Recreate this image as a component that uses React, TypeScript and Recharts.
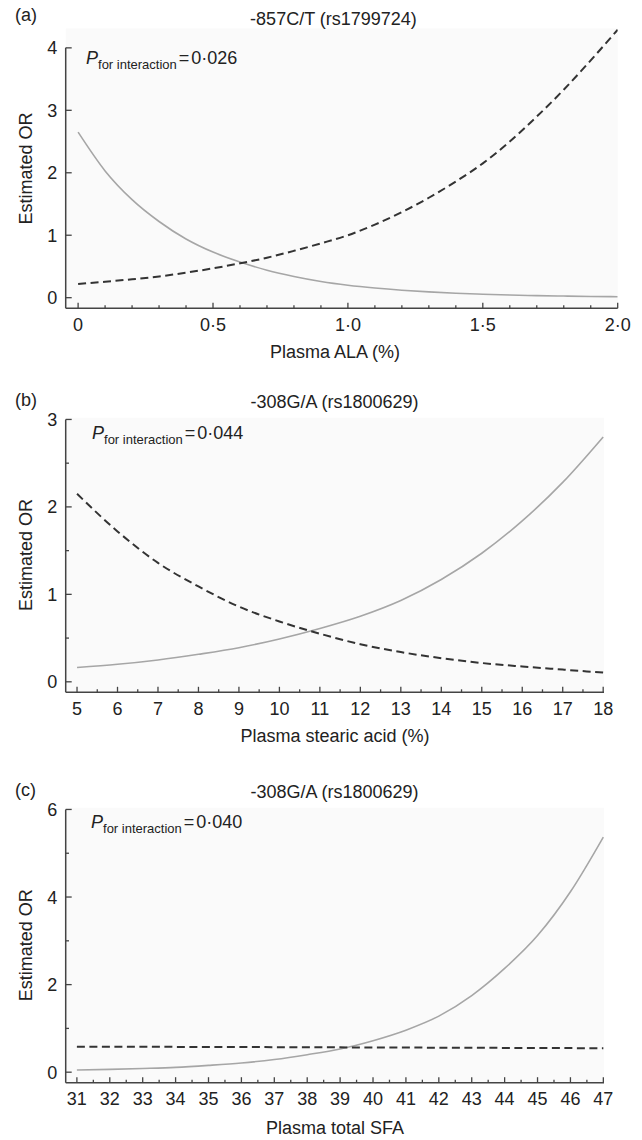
import React from 'react';
import { LineChart, Line, XAxis, YAxis, CartesianGrid, ReferenceLine } from 'recharts';

// (a) -857C/T, plasma ALA
const alaX = [0, 0.1, 0.2, 0.3, 0.4, 0.5, 0.6, 0.7, 0.8, 0.9, 1, 1.1, 1.2, 1.3, 1.4, 1.5, 1.6, 1.7, 1.8, 1.9, 2];
const alaSolid = [2.65, 2.03, 1.57, 1.22, 0.94, 0.73, 0.57, 0.44, 0.34, 0.26, 0.2, 0.155, 0.12, 0.093, 0.072, 0.056, 0.043, 0.033, 0.026, 0.02, 0.015];
const alaDashed = [0.22, 0.255, 0.295, 0.34, 0.4, 0.47, 0.55, 0.64, 0.75, 0.87, 1.0, 1.17, 1.37, 1.6, 1.86, 2.15, 2.5, 2.9, 3.33, 3.8, 4.29];
const alaMajor = [0, 0.5, 1, 1.5, 2];
const alaMajorLabels = ['0', '0·5', '1·0', '1·5', '2·0'];
const alaYTicks = [0, 1, 2, 3, 4];

// (b) -308G/A, plasma stearic acid
const stearicX = [5, 6, 7, 8, 9, 10, 11, 12, 13, 14, 15, 16, 17, 18];
const stearicSolid = [0.163, 0.2, 0.25, 0.315, 0.39, 0.49, 0.61, 0.75, 0.93, 1.17, 1.47, 1.84, 2.28, 2.8];
const stearicDashed = [2.15, 1.72, 1.36, 1.09, 0.86, 0.69, 0.55, 0.43, 0.34, 0.27, 0.215, 0.175, 0.14, 0.105];
const stearicMinor = [5.5, 6.5, 7.5, 8.5, 9.5, 10.5, 11.5, 12.5, 13.5, 14.5, 15.5, 16.5, 17.5];
const stearicYTicks = [0, 1, 2, 3];
const stearicYMinor = [0.5, 1.5, 2.5];

// (c) -308G/A, plasma total SFA
const sfaX = [31, 32, 33, 34, 35, 36, 37, 38, 39, 40, 41, 42, 43, 44, 45, 46, 47];
const sfaSolid = [0.05, 0.065, 0.085, 0.11, 0.155, 0.21, 0.29, 0.4, 0.53, 0.72, 0.96, 1.28, 1.75, 2.37, 3.12, 4.12, 5.37];
const sfaDashed = [0.58, 0.58, 0.58, 0.578, 0.577, 0.575, 0.572, 0.57, 0.567, 0.565, 0.562, 0.56, 0.557, 0.555, 0.552, 0.55, 0.545];
const sfaMinor = [31.5, 32.5, 33.5, 34.5, 35.5, 36.5, 37.5, 38.5, 39.5, 40.5, 41.5, 42.5, 43.5, 44.5, 45.5, 46.5];
const sfaYTicks = [0, 2, 4, 6];
const sfaYMinor = [1, 3, 5];

const FONT = '"Liberation Sans", Arial, Helvetica, sans-serif';
const INK = '#222';
const AXIS = '#444';

const makeRows = (xs: number[], solid: number[], dashed: number[]) =>
  xs.map((x, i) => ({ x, solid: solid[i], dashed: dashed[i] }));

const XTick = (props: any) => {
  const { x, y, payload, majors, labels } = props;
  const i = majors.indexOf(payload.value);
  const major = i >= 0;
  return (
    <g>
      <line x1={x} y1={y} x2={x} y2={y - (major ? 5.5 : 3)} stroke={AXIS} strokeWidth={1.3} />
      {major && (
        <text x={x} y={y + 22.5} textAnchor="middle" fontFamily={FONT} fontSize={18} fill={INK}>
          {labels[i]}
        </text>
      )}
    </g>
  );
};

const YTick = (props: any) => {
  const { x, y, payload, majors } = props;
  const major = majors.indexOf(payload.value) >= 0;
  return (
    <g>
      <line x1={x} y1={y} x2={x + (major ? 6 : 3.3)} y2={y} stroke={AXIS} strokeWidth={1.3} />
      {major && (
        <text x={x - 8.5} y={y} dy="0.36em" textAnchor="end" fontFamily={FONT} fontSize={18} fill={INK}>
          {String(payload.value)}
        </text>
      )}
    </g>
  );
};

type PanelProps = {
  top: number;
  height: number;
  margin: { top: number; right: number; bottom: number; left: number };
  data: { x: number; solid: number; dashed: number }[];
  xDomain: [number, number];
  yDomain: [number, number];
  xTicks: number[];
  xMajor: number[];
  xLabels: string[];
  yTicks: number[];
  yMajor: number[];
};

const Panel = ({ top, height, margin, data, xDomain, yDomain, xTicks, xMajor, xLabels, yTicks, yMajor }: PanelProps) => (
  <div style={{ position: 'absolute', left: 0, top }}>
    <LineChart width={642} height={height} data={data} margin={margin}>
      <CartesianGrid horizontal={false} vertical={false} fill="#fafafa" stroke="none" />
      <XAxis
        dataKey="x"
        type="number"
        domain={xDomain}
        allowDataOverflow
        ticks={xTicks}
        interval={0}
        height={30}
        tickSize={0}
        tickMargin={0}
        axisLine={{ stroke: AXIS, strokeWidth: 1.5 }}
        tickLine={false}
        tick={(p: any) => <XTick {...p} majors={xMajor} labels={xLabels} />}
      />
      <YAxis
        type="number"
        domain={yDomain}
        allowDataOverflow
        ticks={yTicks}
        interval={0}
        width={40}
        tickSize={0}
        tickMargin={0}
        axisLine={false}
        tickLine={false}
        tick={(p: any) => <YTick {...p} majors={yMajor} />}
      />
      <ReferenceLine
        segment={[
          { x: xDomain[0], y: yDomain[0] },
          { x: xDomain[0], y: yMajor[yMajor.length - 1] },
        ]}
        stroke={AXIS}
        strokeWidth={1.5}
        ifOverflow="visible"
      />
      <Line type="monotone" dataKey="solid" stroke="#a6a6a6" strokeWidth={1.6} dot={false} isAnimationActive={false} />
      <Line
        type="monotone"
        dataKey="dashed"
        stroke="#333"
        strokeWidth={2}
        strokeDasharray="8 4.5"
        dot={false}
        isAnimationActive={false}
      />
    </LineChart>
  </div>
);

const PNote = ({ x, y, value }: { x: number; y: number; value: string }) => (
  <text x={x} y={y} fontFamily={FONT} fontSize={18} fill={INK}>
    <tspan fontStyle="italic">P</tspan>
    <tspan fontSize={13} dy={5}>for interaction</tspan>
    <tspan dy={-5} dx={2}>=</tspan>
    <tspan dx={2}>{value}</tspan>
  </text>
);

const App = () => {
  const yLabel = (cy: number) => (
    <text
      transform={`translate(31.5, ${cy}) rotate(-90)`}
      textAnchor="middle"
      fontFamily={FONT}
      fontSize={18}
      fill={INK}
    >
      Estimated OR
    </text>
  );

  return (
    <div style={{ position: 'absolute', left: 0, top: 0, width: 642, height: 1140, background: '#fff' }}>
      <Panel
        top={0}
        height={385}
        margin={{ top: 28.5, right: 24.3, bottom: 46.7, left: 25.7 }}
        data={makeRows(alaX, alaSolid, alaDashed)}
        xDomain={[-0.046, 2]}
        yDomain={[-0.17, 4.31]}
        xTicks={alaX}
        xMajor={alaMajor}
        xLabels={alaMajorLabels}
        yTicks={alaYTicks}
        yMajor={alaYTicks}
      />
      <Panel
        top={385}
        height={390}
        margin={{ top: 32.7, right: 38, bottom: 52.7, left: 25.7 }}
        data={makeRows(stearicX, stearicSolid, stearicDashed)}
        xDomain={[4.72, 18.02]}
        yDomain={[-0.12, 3.02]}
        xTicks={[...stearicX, ...stearicMinor]}
        xMajor={stearicX}
        xLabels={stearicX.map(String)}
        yTicks={[...stearicYTicks, ...stearicYMinor]}
        yMajor={stearicYTicks}
      />
      <Panel
        top={775}
        height={365}
        margin={{ top: 32.7, right: 38, bottom: 27.3, left: 25.7 }}
        data={makeRows(sfaX, sfaSolid, sfaDashed)}
        xDomain={[30.66, 47.02]}
        yDomain={[-0.24, 6.04]}
        xTicks={[...sfaX, ...sfaMinor]}
        xMajor={sfaX}
        xLabels={sfaX.map(String)}
        yTicks={[...sfaYTicks, ...sfaYMinor]}
        yMajor={sfaYTicks}
      />
      <svg
        width={642}
        height={1140}
        style={{ position: 'absolute', left: 0, top: 0, pointerEvents: 'none' }}
      >
        <g fontFamily={FONT} fontSize={18} fill={INK}>
          <text x={15} y={21}>(a)</text>
          <text x={333.5} y={24.5} textAnchor="middle">-857C/T (rs1799724)</text>
          <text x={335} y={358} textAnchor="middle">Plasma ALA (%)</text>

          <text x={15} y={406}>(b)</text>
          <text x={334.5} y={408} textAnchor="middle">-308G/A (rs1800629)</text>
          <text x={335} y={742} textAnchor="middle">Plasma stearic acid (%)</text>

          <text x={15} y={796}>(c)</text>
          <text x={334.5} y={798} textAnchor="middle">-308G/A (rs1800629)</text>
          <text x={335} y={1134} textAnchor="middle">Plasma total SFA</text>
        </g>
        {yLabel(168.4)}
        {yLabel(555)}
        {yLabel(945.2)}
        <PNote x={86} y={64} value="0·026" />
        <PNote x={92} y={439} value="0·044" />
        <PNote x={91} y={828} value="0·040" />
      </svg>
    </div>
  );
};

export default App;
